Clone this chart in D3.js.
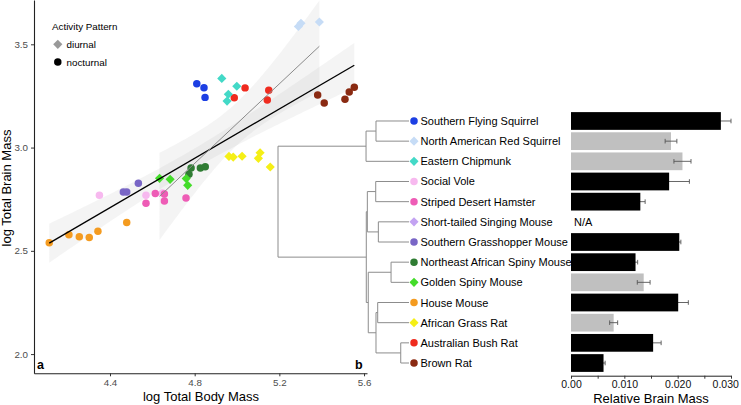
<!DOCTYPE html>
<html><head><meta charset="utf-8">
<script src="https://cdn.jsdelivr.net/npm/d3@7"></script>
<style>
html,body{margin:0;padding:0;background:#fff;}
svg{display:block;font-family:"Liberation Sans",Arial,sans-serif;}
</style></head>
<body><svg id="c" width="741" height="405"></svg>
<script>
// ---------------- DATA ----------------
const species = ["Southern Flying Squirrel","North American Red Squirrel","Eastern Chipmunk","Social Vole","Striped Desert Hamster","Short-tailed Singing Mouse","Southern Grasshopper Mouse","Northeast African Spiny Mouse","Golden Spiny Mouse","House Mouse","African Grass Rat","Australian Bush Rat","Brown Rat"];
const activity = ["nocturnal","diurnal","diurnal","nocturnal","nocturnal","diurnal","nocturnal","nocturnal","diurnal","nocturnal","diurnal","nocturnal","nocturnal"];
const speciesColors = ["#1c3fe3","#c6dcf6","#43d9c7","#f7b9ef","#ee5cb6","#c3a3f2","#7966c6","#2f7c33","#44dc2a","#f49b20","#f5ef16","#ef2b1f","#8a2a12"];

// relative brain mass (mean, standard error); null = N/A
const relBrainMass = [0.0281,0.01875,0.0209,0.0184,0.0130,null,0.0203,0.0121,0.01363,0.0201,0.0080,0.0154,0.0061];
const relBrainSE   = [0.0019,0.0011,0.0016,0.0038,0.0009,null,0.0003,0.0004,0.0012,0.0019,0.00075,0.0015,0.0003];

// scatter: species index, log body mass, log brain mass
const pointSpecies = [9,9,9,9,9,9, 3,3,3, 4,4,4,4,4, 6,6,6, 7,7,7,7, 0,0,0, 11,11,11,11, 12,12,12,12,12,
                      8,8,8,8, 10,10,10,10,10,10, 2,2,2,2, 1,1,1];
const logBodyMass = [4.113,4.206,4.255,4.302,4.343,4.479, 4.350,4.570,4.648, 4.570,4.614,4.657,4.657,4.759, 4.463,4.479,4.534, 4.783,4.773,4.827,4.850, 4.810,4.844,4.849, 5.038,4.987,5.150,5.143, 5.381,5.412,5.510,5.530,5.554,
                     4.634,4.684,4.760,4.767, 4.962,4.982,5.024,5.109,5.101,5.157, 4.928,4.999,4.959,4.953, 5.302,5.290,5.389];
const logBrainMass = [2.539,2.578,2.568,2.565,2.595,2.637, 2.769,2.769,2.780, 2.730,2.778,2.775,2.741,2.756, 2.785,2.785,2.827, 2.901,2.871,2.901,2.907, 3.309,3.290,3.243, 3.289,3.241,3.277,3.230, 3.255,3.216,3.234,3.269,3.292,
                      2.851,2.846,2.850,2.817, 2.957,2.954,2.958,2.975,2.948,2.906, 3.335,3.297,3.258,3.225, 3.602,3.586,3.608];

const xTicks = [4.4,4.8,5.2,5.6];
const yTicks = [2.0,2.5,3.0,3.5];
const barTicks = [0,0.005,0.010,0.015,0.020,0.025,0.030];
const barTickLabels = ["0.00","","0.010","","0.020","","0.030"];
const tCrit = {nocturnal:2.04, diurnal:2.13};

// phylogeny (node ages, root = 1, tips = 0)
const phylogeny = {age:1.0, children:[
  {age:0.328, children:[{age:0.252, children:[{name:species[0]},{name:species[1]}]},{name:species[2]}]},
  {age:0.326, children:[
    {age:0.318, children:[
      {age:0.254, children:[{name:species[3]},{name:species[4]}]},
      {age:0.234, children:[{name:species[5]},{name:species[6]}]}]},
    {age:0.311, children:[
      {age:0.137, children:[{name:species[7]},{name:species[8]}]},
      {age:0.252, children:[
        {age:0.239, children:[{name:species[9]},{name:species[10]}]},
        {age:0.063, children:[{name:species[11]},{name:species[12]}]}]}]}]}
]};

// ---------------- DRAW ----------------
const svg = d3.select("#c");
const diamond = d3.symbol().type(d3.symbolSquare).size(42);
const circ = d3.symbol().type(d3.symbolCircle).size(44);

// ----- panel a: scatter -----
const x = d3.scaleLinear().domain([4.041,5.614]).range([34,367]);
const y = d3.scaleLinear().domain([1.907,3.7145]).range([373.3,0]);

const groups = ["nocturnal","diurnal"];
const pts = logBodyMass.map((b,i)=>({x:b, y:logBrainMass[i], s:pointSpecies[i], act:activity[pointSpecies[i]]}));
const fits = {};
groups.forEach(g=>{
  const p = pts.filter(d=>d.act===g);
  const n = p.length, mx = d3.mean(p,d=>d.x), my = d3.mean(p,d=>d.y);
  const sxx = d3.sum(p,d=>(d.x-mx)**2), sxy = d3.sum(p,d=>(d.x-mx)*(d.y-my));
  const b = sxy/sxx, a = my - b*mx;
  const s = Math.sqrt(d3.sum(p,d=>(d.y-(a+b*d.x))**2)/(n-2));
  const [x0,x1] = d3.extent(p,d=>d.x);
  const grid = d3.range(0,81).map(k=>x0+(x1-x0)*k/80);
  const band = grid.map(xx=>{
    const hw = tCrit[g]*s*Math.sqrt(1/n + (xx-mx)**2/sxx);
    return {x:xx, lo:a+b*xx-hw, hi:a+b*xx+hw};
  });
  fits[g] = {a,b,x0,x1,band};
});
const bandG = svg.append("g");
groups.forEach(g=>{
  bandG.append("path").datum(fits[g].band)
    .attr("d", d3.area().x(d=>x(d.x)).y0(d=>y(d.lo)).y1(d=>y(d.hi)))
    .attr("fill","#999").attr("fill-opacity",0.11);
});

const ptG = svg.append("g");
pts.forEach(d=>{
  const act = activity[d.s];
  ptG.append("path").attr("d", act==="diurnal" ? diamond() : circ())
    .attr("fill", speciesColors[d.s])
    .attr("transform", `translate(${x(d.x)},${y(d.y)})` + (act==="diurnal" ? " rotate(45)" : ""));
});

const lineStyles = {nocturnal:{c:"#000",w:1.3}, diurnal:{c:"#8a8a8a",w:1}};
groups.forEach(g=>{
  const f = fits[g];
  svg.append("line")
    .attr("x1",x(f.x0)).attr("y1",y(f.a+f.b*f.x0))
    .attr("x2",x(f.x1)).attr("y2",y(f.a+f.b*f.x1))
    .attr("stroke",lineStyles[g].c).attr("stroke-width",lineStyles[g].w);
});

const xAxis = svg.append("g").attr("transform","translate(0,373.3)")
  .call(d3.axisBottom(x).tickValues(xTicks).tickSize(3).tickSizeOuter(0).tickFormat(d3.format(".1f")));
const yAxis = svg.append("g").attr("transform","translate(34,0)")
  .call(d3.axisLeft(y).tickValues(yTicks).tickSize(3).tickSizeOuter(0).tickFormat(d3.format(".1f")));
[xAxis,yAxis].forEach(ax=>{
  ax.select(".domain").attr("stroke","#222").attr("stroke-width",1.1);
  ax.selectAll(".tick line").attr("stroke","#333");
  ax.selectAll(".tick text").attr("fill","#4d4d4d").style("font-size","9.8px").style("font-family","Liberation Sans, Arial, sans-serif");
});

svg.append("text").attr("x",201).attr("y",400.5).attr("text-anchor","middle")
  .style("font-size","13px").text("log Total Body Mass");
svg.append("text").attr("transform","translate(10.5,188) rotate(-90)").attr("text-anchor","middle")
  .style("font-size","13px").text("log Total Brain Mass");

// legend
svg.append("text").attr("x",52).attr("y",29.5).style("font-size","9.8px").text("Activity Pattern");
svg.append("path").attr("d",diamond()).attr("fill","#999").attr("transform","translate(57.8,44.3) rotate(45)");
svg.append("text").attr("x",66.5).attr("y",47.8).style("font-size","9.8px").text("diurnal");
svg.append("path").attr("d",circ()).attr("fill","#000").attr("transform","translate(57.8,62)");
svg.append("text").attr("x",66.5).attr("y",65.5).style("font-size","9.8px").text("nocturnal");

svg.append("text").attr("x",37).attr("y",369).style("font-size","12.5px").style("font-weight","bold").text("a");
svg.append("text").attr("x",355).attr("y",369).style("font-size","12.5px").style("font-weight","bold").text("b");

// ----- panel b: tree -----
const row = d3.scaleBand().domain(species).range([110.9,373.1]).paddingInner(0.12).paddingOuter(0.06);
const rowY = s => row(s) + row.bandwidth()/2;
const ageX = d3.scaleLinear().domain([1,0]).range([278,409]);

const root = d3.hierarchy(phylogeny);
root.eachAfter(n=>{
  if(!n.children){ n.ty = rowY(n.data.name); n.tx = ageX(0); }
  else { n.ty = d3.mean(n.children, c=>c.ty); n.tx = ageX(n.data.age); }
});
const treeG = svg.append("g").attr("stroke","#8c8c8c").attr("stroke-width",1).attr("fill","none");
root.each(n=>{
  if(n.children){
    const ys = n.children.map(c=>c.ty);
    treeG.append("line").attr("x1",n.tx).attr("x2",n.tx).attr("y1",d3.min(ys)).attr("y2",d3.max(ys));
    n.children.forEach(c=>{
      treeG.append("line").attr("x1",n.tx).attr("x2",c.tx).attr("y1",c.ty).attr("y2",c.ty);
    });
  }
});
species.forEach((s,i)=>{
  const cy = rowY(s);
  svg.append("path").attr("d", activity[i]==="diurnal" ? diamond() : circ())
    .attr("fill", speciesColors[i])
    .attr("transform", `translate(414,${cy})` + (activity[i]==="diurnal" ? " rotate(45)" : ""));
  svg.append("text").attr("x",420.5).attr("y",cy+4).style("font-size","11px").text(s);
});

// ----- bars -----
const xb = d3.scaleLinear().domain([0,0.030]).range([571,731]);
const barG = svg.append("g");
function errBar(i){
  const s = species[i], cy = rowY(s);
  const lo = xb(relBrainMass[i]-relBrainSE[i]), hi = xb(relBrainMass[i]+relBrainSE[i]);
  const col = "#555";
  barG.append("line").attr("x1",lo).attr("x2",hi).attr("y1",cy).attr("y2",cy).attr("stroke",col).attr("stroke-width",0.9);
  [lo,hi].forEach(xx=>barG.append("line").attr("x1",xx).attr("x2",xx).attr("y1",cy-2.3).attr("y2",cy+2.3).attr("stroke",col).attr("stroke-width",0.9));
}
species.forEach((s,i)=>{ if(relBrainMass[i]!==null && activity[i]==="nocturnal") errBar(i); });
species.forEach((s,i)=>{
  if(relBrainMass[i]===null){
    barG.append("text").attr("x",574).attr("y",rowY(s)+4).style("font-size","11px").text("N/A");
    return;
  }
  barG.append("rect").attr("x",xb(0)).attr("y",row(s))
    .attr("width",xb(relBrainMass[i])-xb(0)).attr("height",row.bandwidth())
    .attr("fill", activity[i]==="diurnal" ? "#c0c0c0" : "#000");
});
species.forEach((s,i)=>{ if(relBrainMass[i]!==null && activity[i]==="diurnal") errBar(i); });

const bAxis = svg.append("g").attr("transform","translate(0,375.7)")
  .call(d3.axisBottom(xb).tickValues(barTicks).tickSize(3).tickSizeOuter(0).tickFormat((d,i)=>barTickLabels[i]));
bAxis.select(".domain").attr("stroke","#222");
bAxis.selectAll(".tick text").attr("y",4.5).attr("fill","#111").style("font-size","10.5px").style("font-family","Liberation Sans, Arial, sans-serif")
  .attr("dx",(d,i)=> i===barTicks.length-1 ? "-0.55em" : 0);
bAxis.selectAll(".tick line").attr("stroke","#333");
svg.append("text").attr("x",651).attr("y",402.5).attr("text-anchor","middle").style("font-size","13px").text("Relative Brain Mass");
</script></body></html>
